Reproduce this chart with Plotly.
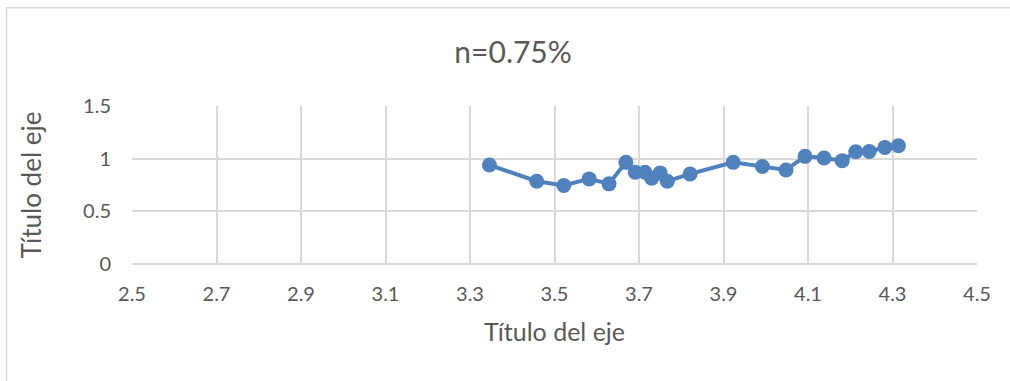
import plotly.graph_objects as go

# Measured series
x_vals = [3.346, 3.458, 3.522, 3.582, 3.629, 3.669, 3.691, 3.714, 3.730, 3.750,
          3.767, 3.821, 3.923, 3.992, 4.048, 4.093, 4.138, 4.181, 4.213, 4.245,
          4.282, 4.314]
y_vals = [0.94, 0.786, 0.745, 0.808, 0.761, 0.965, 0.871, 0.871, 0.814, 0.865,
          0.786, 0.855, 0.965, 0.925, 0.893, 1.022, 1.007, 0.981, 1.066, 1.069,
          1.107, 1.123]

x_ticks = [2.5, 2.7, 2.9, 3.1, 3.3, 3.5, 3.7, 3.9, 4.1, 4.3, 4.5]
y_ticks = [0, 0.5, 1, 1.5]

chart_title = "n=0.75%"
x_title = "Título del eje"
y_title = "Título del eje"

FONT = "Lato"
TEXT_GRAY = "#595959"
GRID = "#d9d9d9"
BLUE = "#4f81bd"

fig = go.Figure(
    go.Scatter(
        x=x_vals, y=y_vals, mode="lines+markers",
        line=dict(color=BLUE, width=4),
        marker=dict(color=BLUE, size=15),
        showlegend=False,
    )
)

fig.update_layout(
    width=1010, height=381,
    margin=dict(l=132, r=33, t=106, b=117),
    paper_bgcolor="white", plot_bgcolor="white",
    title=dict(text=chart_title, x=0.508, xanchor="center", y=0.863, yanchor="middle",
               font=dict(family=FONT, size=30, color=TEXT_GRAY)),
    font=dict(family=FONT, color=TEXT_GRAY),
    shapes=[dict(type="rect", xref="paper", yref="paper",
                 x0=-0.1485, x1=1.2, y0=-0.85, y1=1.622,
                 line=dict(color=GRID, width=1.5), layer="below")],
)

fig.update_xaxes(
    range=[2.5, 4.5], tickvals=x_ticks, ticktext=[str(v) for v in x_ticks],
    showgrid=True, gridcolor=GRID, gridwidth=1.5,
    zeroline=False, showline=False,
    ticks="outside", ticklen=12, tickcolor="rgba(0,0,0,0)",
    tickfont=dict(family=FONT, size=20, color=TEXT_GRAY),
    title=dict(text=x_title, font=dict(family=FONT, size=25, color=TEXT_GRAY), standoff=19),
)
fig.update_yaxes(
    range=[0, 1.5], tickvals=y_ticks, ticktext=["0", "0.5", "1", "1.5"],
    showgrid=True, gridcolor=GRID, gridwidth=1.5,
    zeroline=True, zerolinecolor=GRID, zerolinewidth=1.5, showline=False,
    ticks="outside", ticklen=16, tickcolor="rgba(0,0,0,0)",
    tickfont=dict(family=FONT, size=20, color=TEXT_GRAY),
    title=dict(text=y_title, font=dict(family=FONT, size=26, color=TEXT_GRAY), standoff=33),
)

fig.write_html("out.html")
